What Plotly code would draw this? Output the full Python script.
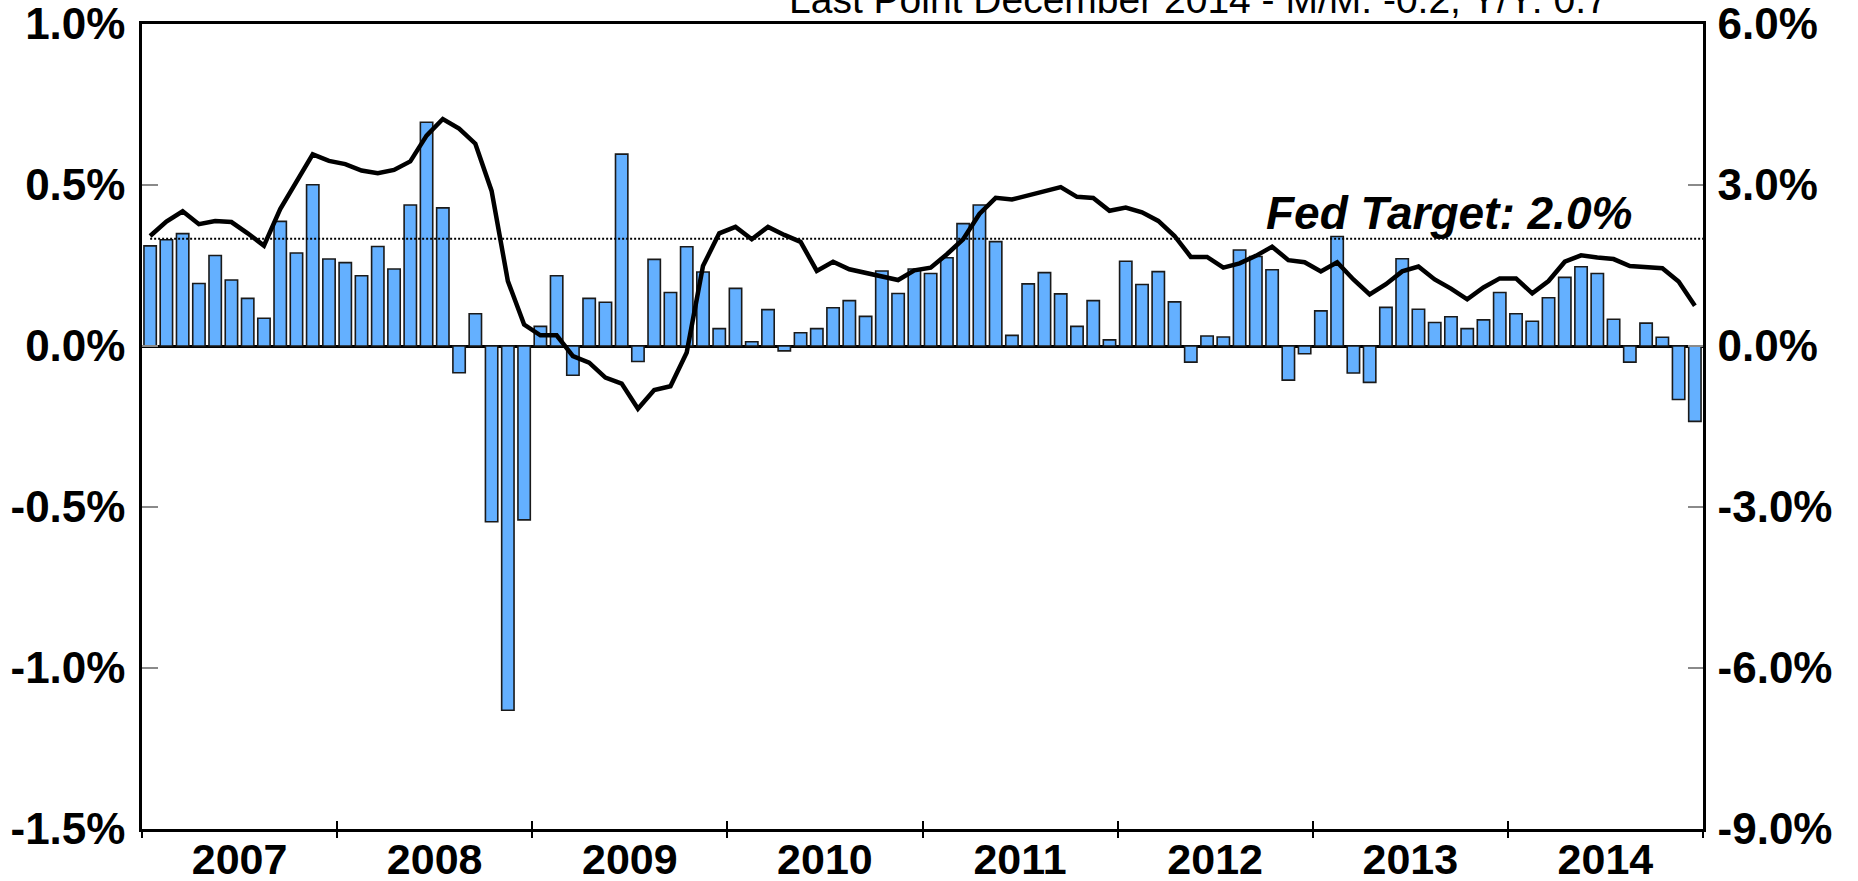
import plotly.graph_objects as go

# ---------------- data ----------------
YEARS = [2007, 2008, 2009, 2010, 2011, 2012, 2013, 2014]

# Month-over-month change, % (left axis, bars), Jan 2007 .. Dec 2014
MOM = [
    0.311, 0.330, 0.349, 0.194, 0.281, 0.205, 0.148, 0.086, 0.387, 0.289, 0.501, 0.270,
    0.259, 0.218, 0.309, 0.239, 0.438, 0.695, 0.429, -0.083, 0.100, -0.546, -1.131, -0.540,
    0.061, 0.218, -0.091, 0.148, 0.136, 0.596, -0.048, 0.269, 0.166, 0.308, 0.230, 0.054,
    0.179, 0.013, 0.113, -0.015, 0.041, 0.054, 0.119, 0.141, 0.092, 0.233, 0.163, 0.239,
    0.225, 0.274, 0.380, 0.438, 0.324, 0.033, 0.193, 0.228, 0.162, 0.061, 0.141, 0.019,
    0.263, 0.191, 0.231, 0.137, -0.050, 0.031, 0.028, 0.298, 0.278, 0.237, -0.106, -0.024,
    0.109, 0.340, -0.084, -0.113, 0.120, 0.271, 0.114, 0.073, 0.091, 0.054, 0.081, 0.166,
    0.100, 0.077, 0.150, 0.213, 0.246, 0.225, 0.083, -0.050, 0.071, 0.027, -0.166, -0.234,
]

# Year-over-year change, % (right axis, line)
YOY = [
    2.05, 2.32, 2.51, 2.27, 2.33, 2.31, 2.10, 1.87, 2.55, 3.08, 3.57, 3.45,
    3.39, 3.27, 3.22, 3.28, 3.44, 3.92, 4.23, 4.05, 3.77, 2.89, 1.21, 0.40,
    0.20, 0.20, -0.19, -0.31, -0.59, -0.70, -1.17, -0.82, -0.75, -0.12, 1.49, 2.10,
    2.22, 1.99, 2.22, 2.07, 1.94, 1.40, 1.57, 1.43, 1.36, 1.29, 1.23, 1.41,
    1.46, 1.71, 1.99, 2.46, 2.76, 2.73, 2.80, 2.89, 2.96, 2.78, 2.76, 2.52,
    2.58, 2.49, 2.33, 2.05, 1.66, 1.66, 1.46, 1.54, 1.68, 1.85, 1.60, 1.56,
    1.39, 1.56, 1.24, 0.96, 1.15, 1.39, 1.48, 1.24, 1.07, 0.87, 1.09, 1.26,
    1.26, 0.98, 1.21, 1.57, 1.69, 1.65, 1.62, 1.49, 1.47, 1.45, 1.20, 0.75,
]

FED_TARGET = 2.0
LEFT_TICKS = [-1.5, -1.0, -0.5, 0.0, 0.5, 1.0]
RIGHT_TICKS = [-9.0, -6.0, -3.0, 0.0, 3.0, 6.0]
TITLE = "Last Point December 2014 - M/M: -0.2, Y/Y: 0.7"
TARGET_LABEL = "Fed Target: 2.0%"

# ---------------- figure ----------------
FONT = "Liberation Sans, Arial, sans-serif"
n = len(MOM)
x = list(range(n))
year_mid = [12 * i + 5.5 for i in range(len(YEARS))]
year_bounds = [12 * i - 0.5 for i in range(len(YEARS) + 1)]
EPS_L = 1e-6
EPS_R = 6e-6


def pct(v):
    return f"{v:.1f}%"


fig = go.Figure()
fig.add_trace(go.Bar(
    x=x, y=MOM, width=0.76,
    marker=dict(color="#64B0FF", line=dict(color="#1a1a1a", width=1.6)),
    xaxis="x", yaxis="y", showlegend=False,
))
fig.add_trace(go.Scatter(
    x=x, y=YOY, mode="lines",
    line=dict(color="black", width=4.5),
    xaxis="x", yaxis="y2", showlegend=False,
))
# helper traces so the overlay axes for year-boundary ticks are drawn
fig.add_trace(go.Scatter(x=[x[0]], y=[0], mode="markers", marker=dict(opacity=0),
                         xaxis="x2", yaxis="y", showlegend=False, hoverinfo="skip"))
fig.add_trace(go.Scatter(x=[x[0]], y=[0], mode="markers", marker=dict(opacity=0),
                         xaxis="x3", yaxis="y", showlegend=False, hoverinfo="skip"))

# Fed target dotted line
fig.add_shape(type="line", xref="x", yref="y2",
              x0=x[0], x1=n - 0.5, y0=FED_TARGET, y1=FED_TARGET,
              line=dict(color="black", width=2, dash="2px,2px"), layer="above")

tickfont = dict(family=FONT, size=44, color="black", weight="bold")

boundary_axis = dict(
    overlaying="x", matches="x", anchor="y", automargin=False,
    tickmode="array", tickvals=year_bounds,
    ticklen=8, tickwidth=2, tickcolor="black",
    showticklabels=False, showline=False, showgrid=False, zeroline=False,
)

fig.update_layout(
    width=1858, height=881, autosize=False,
    margin=dict(l=142, r=155, t=24, b=52, pad=0),
    paper_bgcolor="white", plot_bgcolor="white",
    bargap=0.24,
    showlegend=False,
    xaxis=dict(
        range=[-0.5, n - 0.5], automargin=False,
        tickmode="array", tickvals=year_mid, ticktext=[str(y) for y in YEARS],
        ticks="", ticklabelstandoff=-9,
        tickfont=dict(tickfont, size=43),
        showline=True, linecolor="black", linewidth=2.5, mirror=True,
        showgrid=False, zeroline=False,
    ),
    xaxis2=dict(boundary_axis, ticks="inside"),
    xaxis3=dict(boundary_axis, ticks="outside"),
    yaxis=dict(
        range=[LEFT_TICKS[0] - EPS_L, LEFT_TICKS[-1] + EPS_L], automargin=False,
        tickmode="array", tickvals=LEFT_TICKS, ticktext=[pct(v) for v in LEFT_TICKS],
        ticks="inside", ticklen=16, tickwidth=2, tickcolor="#8a8a8a",
        ticklabelstandoff=5, ticklabeloverflow="allow",
        tickfont=tickfont,
        showline=True, linecolor="black", linewidth=2.5,
        showgrid=False,
        zeroline=True, zerolinecolor="black", zerolinewidth=3,
    ),
    yaxis2=dict(
        overlaying="y", side="right", anchor="x", automargin=False,
        range=[RIGHT_TICKS[0] - EPS_R, RIGHT_TICKS[-1] + EPS_R],
        tickmode="array", tickvals=RIGHT_TICKS, ticktext=[pct(v) for v in RIGHT_TICKS],
        ticks="inside", ticklen=15, tickwidth=2, tickcolor="#8a8a8a",
        ticklabelstandoff=3, ticklabeloverflow="allow",
        tickfont=tickfont,
        showline=True, linecolor="black", linewidth=2.5,
        showgrid=False, zeroline=False,
    ),
    annotations=[
        dict(text=TITLE, xref="paper", yref="paper", x=0.677, y=1.0,
             xanchor="center", yanchor="bottom", yshift=1, showarrow=False,
             font=dict(family=FONT, size=39, color="black")),
        dict(text=f"<b><i>{TARGET_LABEL}</i></b>", xref="paper", yref="y2",
             x=0.8374, y=FED_TARGET, xanchor="center", yanchor="bottom", yshift=-2,
             showarrow=False,
             font=dict(family=FONT, size=46, color="black")),
    ],
)

fig.write_html("out.html", config={"displayModeBar": False},
               post_script="document.body.style.margin='0';document.body.style.overflow='hidden';")
